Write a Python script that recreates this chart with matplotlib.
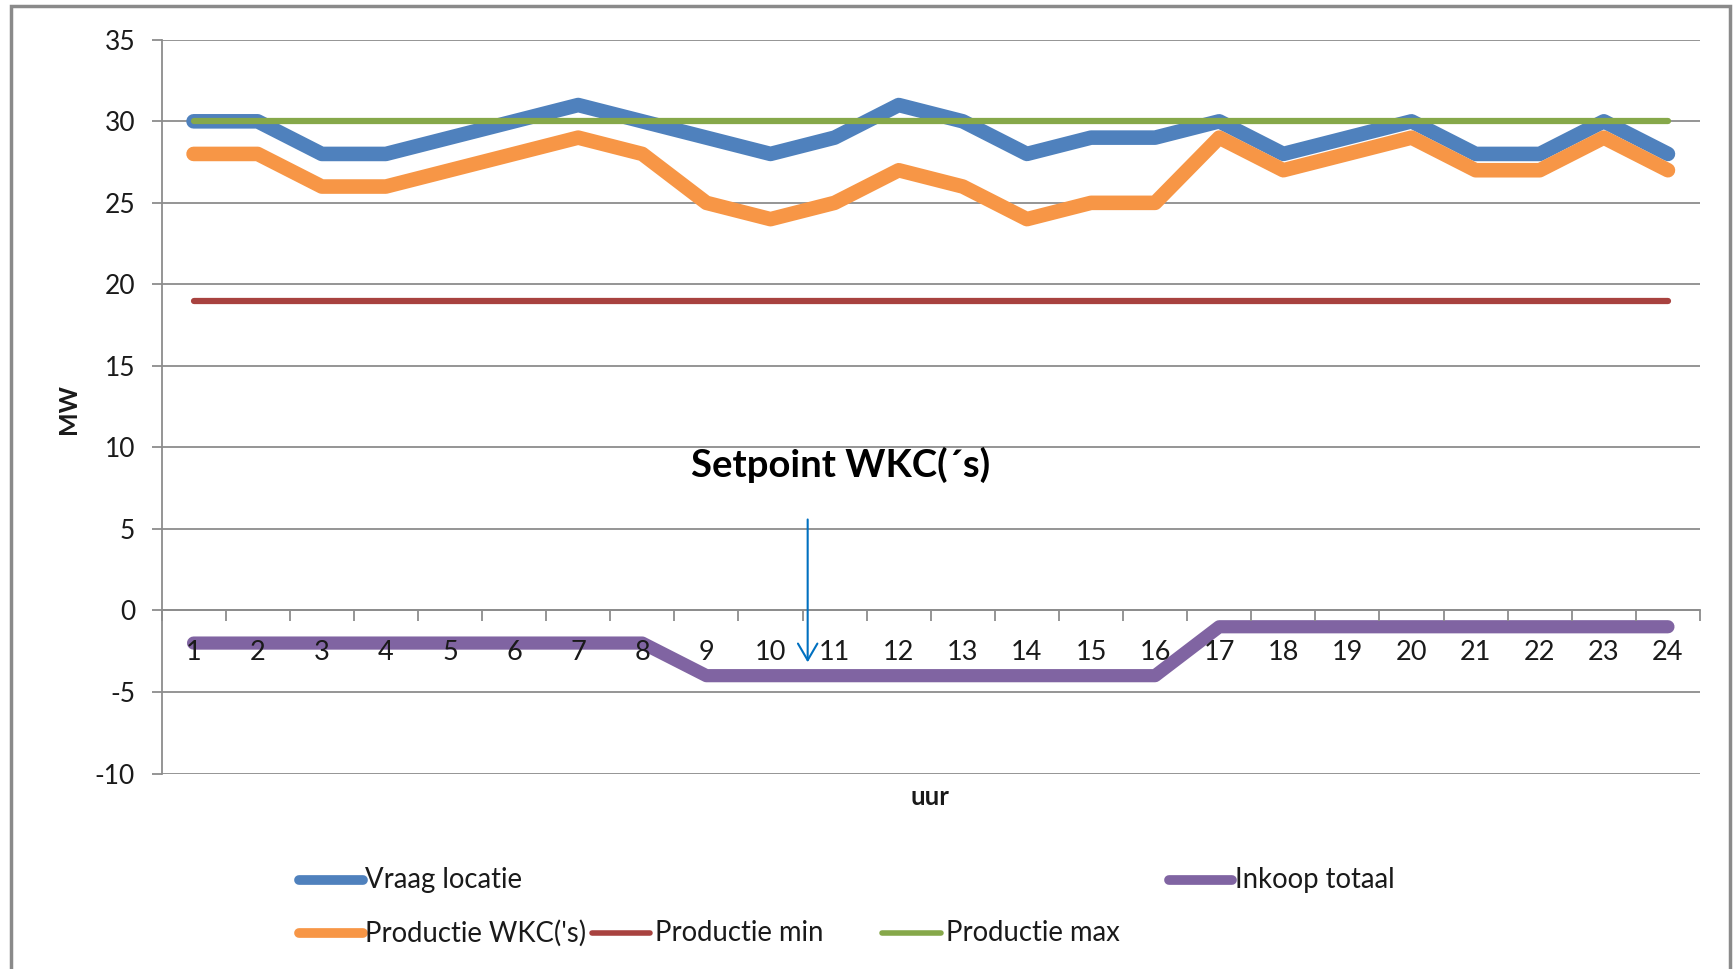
import matplotlib
matplotlib.use('Agg')
import matplotlib.pyplot as plt
import numpy as np
from matplotlib.lines import Line2D
from matplotlib.patches import Rectangle

# ---------------- data ----------------
hours = list(range(1, 25))
vraag_locatie = [30, 30, 28, 28, 29, 30, 31, 30, 29, 28, 29, 31,
                 30, 28, 29, 29, 30, 28, 29, 30, 28, 28, 30, 28]
productie_wkc = [28, 28, 26, 26, 27, 28, 29, 28, 25, 24, 25, 27,
                 26, 24, 25, 25, 29, 27, 28, 29, 27, 27, 29, 27]
productie_min = [19, 19, 19, 19, 19, 19, 19, 19, 19, 19, 19, 19,
                 19, 19, 19, 19, 19, 19, 19, 19, 19, 19, 19, 19]
productie_max = [30, 30, 30, 30, 30, 30, 30, 30, 30, 30, 30, 30,
                 30, 30, 30, 30, 30, 30, 30, 30, 30, 30, 30, 30]
inkoop_totaal = [-2, -2, -2, -2, -2, -2, -2, -2, -4, -4, -4, -4,
                 -4, -4, -4, -4, -1, -1, -1, -1, -1, -1, -1, -1]

series_labels = ["Vraag locatie", "Productie WKC('s)", "Productie min",
                 "Productie max", "Inkoop totaal"]
yticks = [-10, -5, 0, 5, 10, 15, 20, 25, 30, 35]
annotation_text = "Setpoint WKC(\u00b4s)"
annotation_hour = 10.58
annotation_top = 5.75
annotation_tip = -3.35

# ---------------- style ----------------
colors = ['#4F81BD', '#F79646', '#A8423F', '#86A84A', '#8064A2']
widths = [10.5, 10.5, 4.5, 4.5, 9.5]
FONT = ['Lato', 'DejaVu Sans']
plt.rcParams['font.family'] = FONT

W, H = 1735, 969
fig = plt.figure(figsize=(W / 100, H / 100), dpi=100)
fig.patch.set_facecolor('white')

ax = fig.add_axes([161.5 / W, 1 - 773.5 / H, (1700 - 161.5) / W, (773.5 - 39.8) / H])
ax.set_facecolor('white')

all_series = [vraag_locatie, productie_wkc, productie_min, productie_max, inkoop_totaal]
for vals, c, lw, lab in zip(all_series, colors, widths, series_labels):
    ax.plot(hours, vals, color=c, lw=lw, label=lab,
            solid_capstyle='round', solid_joinstyle='round', zorder=3)

ax.set_xlim(0.5, 24.5)
ax.set_ylim(-10, 35)
ax.set_yticks(yticks)
ax.set_yticklabels([str(v) for v in yticks])
ax.yaxis.grid(True, color='#8c8c8c', lw=1.3)
ax.set_axisbelow(True)

grey = '#8c8c8c'
for s in ['top', 'right']:
    ax.spines[s].set_visible(False)
ax.spines['left'].set_color(grey)
ax.spines['left'].set_linewidth(1.3)
ax.spines['bottom'].set_color(grey)
ax.spines['bottom'].set_linewidth(1.3)
ax.spines['bottom'].set_position(('data', 0))

ax.set_xticks(hours)
ax.set_xticklabels([str(h) for h in hours])
ax.set_xticks(np.arange(0.5, 25, 1.0), minor=True)
ax.tick_params(axis='x', which='major', length=0, pad=21, labelsize=19.5, labelcolor='#1a1a1a')
ax.tick_params(axis='x', which='minor', length=8, width=1.3, color=grey, direction='out')
ax.tick_params(axis='y', length=7, width=1.3, color=grey, pad=12, labelsize=19, labelcolor='#1a1a1a')
# category labels sit on top of the data lines (as in the original)
ax.xaxis.set_zorder(5)

# axis titles
fig.text(68.6 / W, 1 - 409 / H, 'MW', rotation=90, ha='center', va='center',
         fontsize=18, fontweight='bold', color='#1a1a1a')
fig.text(929.5 / W, 1 - 797 / H, 'uur', ha='center', va='center',
         fontsize=18.5, fontweight='bold', color='#1a1a1a')

# annotation
ax.annotate('', xy=(annotation_hour, annotation_tip), xytext=(annotation_hour, annotation_top),
            arrowprops=dict(arrowstyle='->,head_length=1.2,head_width=0.7', color='#0070C0', lw=1.5),
            zorder=6)
ax.text(11.1, 8.93, annotation_text, ha='center', va='center', fontsize=27.5,
        fontweight='bold', color='black', zorder=6)

# manual legend (Excel-like placement)
leg_pos = [  # (x0, x1, y, text_x) in full-size pixels
    (298.8, 362.9, 879.7, 365.2),
    (298.8, 362.9, 932.8, 365.2),
    (592.0, 649.5, 932.8, 655.0),
    (881.9, 940.5, 932.8, 946.0),
    (1168.5, 1231.6, 879.7, 1234.9),
]
leg_widths = [7, 7, 4, 4, 7]
for (x0, x1, y, tx), c, lw, lab in zip(leg_pos, colors, leg_widths, series_labels):
    fig.add_artist(Line2D([x0 / W, x1 / W], [1 - y / H, 1 - y / H], transform=fig.transFigure,
                          color=c, lw=lw, solid_capstyle='round'))
    fig.text(tx / W, 1 - y / H, lab, ha='left', va='center', fontsize=19.8, color='#1a1a1a')

# outer chart border
fig.add_artist(Rectangle((11 / W, -0.2), (1730 - 11) / W, 1.2 - 6 / H, transform=fig.transFigure,
                         fill=False, edgecolor='#8a8a8a', lw=2.5))

fig.savefig('out.png', dpi=100, facecolor='white')
